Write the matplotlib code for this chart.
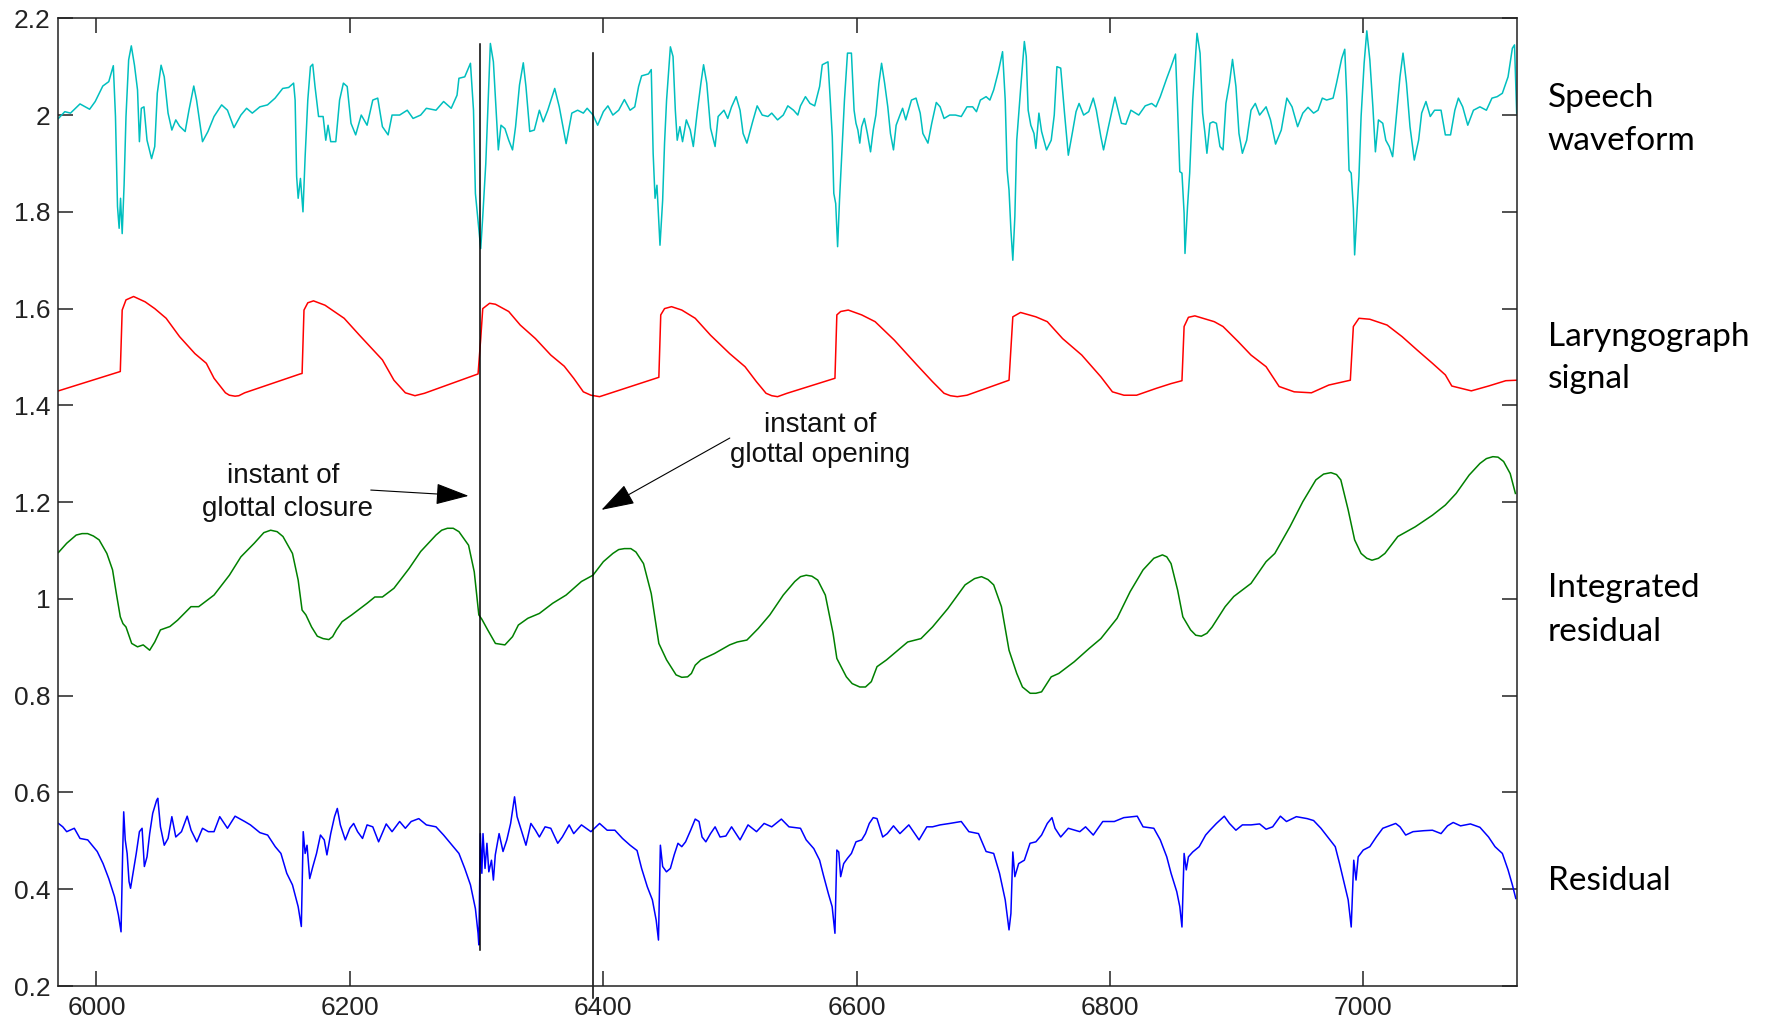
import matplotlib
matplotlib.use('Agg')
import matplotlib.pyplot as plt
import numpy as np
from matplotlib.ticker import FuncFormatter

# (sample, value) pairs
speech = [
    (5970, 1.993), (5975, 2.007), (5979.5, 2.004), (5987, 2.023), (5994.6, 2.012), (5999, 2.028),
    (6005, 2.060), (6009.7, 2.069), (6013.3, 2.102), (6015, 1.997), (6016.6, 1.811), (6017.9, 1.766),
    (6019, 1.828), (6020.3, 1.755), (6021.8, 1.855), (6023.3, 1.997), (6025.4, 2.114), (6027.5, 2.143),
    (6030, 2.103), (6032.4, 2.052), (6033.9, 1.945), (6035.4, 2.014), (6037.5, 2.017), (6039.9, 1.948),
    (6043.5, 1.910), (6046, 1.935), (6048, 2.045), (6051, 2.103), (6053.5, 2.079), (6056.5, 2.004),
    (6059.5, 1.969), (6062.6, 1.990), (6065.6, 1.977), (6070, 1.966), (6073, 2.010), (6076.8, 2.060),
    (6079, 2.031), (6083.7, 1.945), (6088, 1.966), (6092.8, 1.997), (6098.8, 2.021), (6103.4, 2.010),
    (6108.5, 1.974), (6114, 2.000), (6118.5, 2.014), (6123, 2.004), (6129, 2.017), (6135, 2.021),
    (6141, 2.035), (6147, 2.055), (6151.7, 2.057), (6155.6, 2.066), (6156.8, 2.031), (6158, 1.873),
    (6159.2, 1.828), (6161, 1.869), (6163, 1.800), (6164.7, 1.914), (6166.8, 2.031), (6168.9, 2.100),
    (6170.7, 2.105), (6172.5, 2.059), (6175.3, 1.997), (6178.9, 1.997), (6181, 1.948), (6182.8, 1.979),
    (6184.9, 1.945), (6188.9, 1.945), (6191.9, 2.031), (6194.9, 2.066), (6197.9, 2.059), (6200.9, 1.983),
    (6204.6, 1.959), (6209, 2.000), (6213.6, 1.979), (6218.1, 2.031), (6222, 2.035), (6225.7, 1.976),
    (6230.2, 1.959), (6233.3, 2.000), (6239.3, 2.000), (6245.3, 2.010), (6249.9, 1.993), (6255.9, 2.000),
    (6260.4, 2.014), (6268, 2.010), (6274, 2.028), (6280, 2.014), (6284.6, 2.041), (6286.1, 2.076),
    (6290.7, 2.079), (6295.2, 2.107), (6297.6, 2.010), (6299.1, 1.838), (6301.2, 1.780), (6303.3, 1.724),
    (6304.9, 1.790), (6307.3, 1.900), (6309.4, 2.045), (6310.9, 2.148), (6313.3, 2.110), (6315.4, 2.010),
    (6317.2, 1.928), (6319.3, 1.979), (6322.4, 1.972), (6325.4, 1.948), (6328.4, 1.928), (6330.8, 1.976),
    (6333.9, 2.062), (6336.9, 2.108), (6339, 2.059), (6342, 1.966), (6345.6, 1.969), (6349.6, 2.010),
    (6352.6, 1.986), (6356.2, 2.010), (6361.7, 2.055), (6365.3, 2.017), (6370.7, 1.941), (6375.2, 2.004),
    (6379.8, 2.010), (6384.3, 2.004), (6387.3, 2.014), (6392, 2.000), (6395.6, 1.979), (6400.1, 2.007),
    (6403.7, 2.019), (6407.6, 2.000), (6412.2, 2.010), (6416.7, 2.032), (6421.2, 2.010), (6424.9, 2.017),
    (6427.9, 2.059), (6430.3, 2.081), (6435.7, 2.085), (6437.9, 2.094), (6439.4, 1.921), (6440.9, 1.828),
    (6442.4, 1.855), (6444.8, 1.731), (6446.9, 1.824), (6448.4, 1.942), (6450, 2.031), (6453, 2.141),
    (6455.1, 2.121), (6456.9, 2.010), (6458.4, 1.948), (6460.5, 1.976), (6462.6, 1.945), (6465.6, 1.990),
    (6468.7, 1.969), (6471.1, 1.935), (6474.1, 2.004), (6477.1, 2.066), (6479.2, 2.104), (6481.7, 2.066),
    (6484.7, 1.973), (6488.3, 1.935), (6490.7, 1.997), (6495.3, 2.010), (6498.3, 1.993), (6501.3, 2.017),
    (6504.9, 2.038), (6508, 2.010), (6510.4, 1.962), (6513.4, 1.942), (6517.9, 1.986), (6521.5, 2.019),
    (6525.5, 2.000), (6530, 1.997), (6533, 2.004), (6537.6, 1.990), (6542.1, 2.000), (6545.7, 2.019),
    (6550.2, 2.010), (6553.6, 2.000), (6555.7, 2.019), (6559.6, 2.038), (6563.2, 2.024), (6566.9, 2.019),
    (6570.8, 2.059), (6572.9, 2.104), (6577.4, 2.110), (6579.2, 2.031), (6580.8, 1.955), (6582, 1.838),
    (6583.5, 1.817), (6585, 1.728), (6586.5, 1.824), (6588.3, 1.921), (6590.4, 2.031), (6592.8, 2.128),
    (6595.9, 2.128), (6598, 2.010), (6599.5, 1.983), (6601, 1.969), (6602.5, 1.942), (6604, 1.976),
    (6606.1, 1.993), (6608.5, 1.962), (6611, 1.924), (6613.1, 1.969), (6615.2, 2.000), (6617.6, 2.066),
    (6619.7, 2.107), (6622.1, 2.066), (6624.6, 2.017), (6626.7, 1.962), (6629.1, 1.928), (6631.2, 1.979),
    (6634.2, 2.000), (6636.3, 2.014), (6638.8, 1.990), (6643.3, 2.031), (6646.9, 2.035), (6650.2, 2.004),
    (6652.3, 1.962), (6656.3, 1.942), (6659.3, 1.983), (6662.9, 2.026), (6665.9, 2.017), (6669, 1.993),
    (6673.5, 2.000), (6678, 2.000), (6682.6, 1.997), (6687.1, 2.017), (6691.6, 2.017), (6694.6, 2.007),
    (6697.7, 2.031), (6702.2, 2.038), (6705.2, 2.031), (6708.2, 2.052), (6711.9, 2.090), (6715.2, 2.131),
    (6717.3, 2.031), (6718.8, 1.886), (6720.3, 1.845), (6721.8, 1.762), (6723.3, 1.700), (6724.9, 1.790),
    (6726.4, 1.948), (6729.4, 2.052), (6732.4, 2.152), (6733.9, 2.121), (6735.4, 2.010), (6737.5, 1.979),
    (6740, 1.962), (6741.5, 1.931), (6743.9, 2.004), (6746, 1.966), (6749.9, 1.928), (6753.6, 1.948),
    (6756, 2.000), (6758.1, 2.100), (6761.1, 2.097), (6764.1, 2.004), (6767.1, 1.917), (6770.2, 1.962),
    (6773.2, 2.007), (6775.6, 2.024), (6779.2, 2.000), (6783.2, 2.007), (6786.8, 2.035), (6789.2, 2.010),
    (6792.8, 1.955), (6794.9, 1.928), (6798.8, 1.976), (6803.9, 2.037), (6809, 1.983), (6812.5, 1.981),
    (6816.5, 2.010), (6822.7, 2.000), (6827.8, 2.019), (6832.9, 2.024), (6836.3, 2.017), (6839.7, 2.038),
    (6844.8, 2.076), (6848.2, 2.100), (6851.7, 2.126), (6853.4, 2.010), (6855.1, 1.883), (6856.8, 1.880),
    (6858.5, 1.797), (6859.2, 1.714), (6861.2, 1.811), (6862.9, 1.880), (6865.3, 2.031), (6868.7, 2.169),
    (6871.1, 2.128), (6873.1, 2.004), (6874.8, 1.966), (6876.5, 1.921), (6878.9, 1.983), (6881.3, 1.986),
    (6884, 1.983), (6886.8, 1.935), (6889.2, 1.928), (6891.5, 2.024), (6894.3, 2.066), (6896.7, 2.115),
    (6899.4, 2.059), (6901.8, 1.962), (6904.5, 1.921), (6907.9, 1.948), (6911.3, 2.010), (6914.7, 2.024),
    (6918.1, 2.000), (6923.2, 2.017), (6926.7, 1.990), (6930.7, 1.940), (6935.2, 1.969), (6939.6, 2.035),
    (6943.7, 2.017), (6948.1, 1.976), (6952.2, 2.004), (6956.3, 2.016), (6960.7, 2.004), (6964.2, 2.010),
    (6967.6, 2.035), (6971, 2.031), (6976.1, 2.035), (6978.8, 2.066), (6982.9, 2.117), (6985.3, 2.136),
    (6987, 2.031), (6988.7, 1.886), (6990.4, 1.880), (6992.1, 1.807), (6993.1, 1.711), (6994.8, 1.790),
    (6996.5, 1.873), (6998.2, 1.997), (7000.6, 2.107), (7002.7, 2.174), (7005.1, 2.114), (7007.5, 2.017),
    (7009.5, 1.924), (7011.9, 1.990), (7015.3, 1.983), (7017.7, 1.948), (7020.4, 1.935), (7023.1, 1.914),
    (7026.5, 2.010), (7028.9, 2.079), (7031.3, 2.128), (7034, 2.066), (7036.8, 1.976), (7040.2, 1.907),
    (7043.6, 1.948), (7046, 2.004), (7049.4, 2.028), (7052.8, 1.997), (7056.2, 2.010), (7061.3, 2.010),
    (7064.7, 1.959), (7068.8, 1.959), (7072.2, 2.010), (7075, 2.035), (7078.4, 2.017), (7082.4, 1.979),
    (7086.9, 2.010), (7092, 2.017), (7097.1, 2.010), (7101.5, 2.035), (7105.6, 2.038), (7109.7, 2.045),
    (7114.2, 2.079), (7117.6, 2.138), (7119.3, 2.145), (7121, 2.004),
]

laryngograph = [
    (5970, 1.430), (6018.8, 1.470), (6020.3, 1.597), (6023.3, 1.618), (6029.3, 1.625), (6038.4, 1.614),
    (6046, 1.600), (6055, 1.580), (6065.6, 1.542), (6077.7, 1.507), (6086.7, 1.487), (6092.8, 1.456),
    (6101.8, 1.426), (6104.9, 1.421), (6109.4, 1.419), (6112.4, 1.420), (6117, 1.426), (6160.8, 1.465),
    (6162.3, 1.466), (6163.8, 1.597), (6166.8, 1.612), (6171.3, 1.616), (6180.4, 1.607), (6195.5, 1.580),
    (6207.6, 1.545), (6225.7, 1.494), (6234.8, 1.452), (6243.8, 1.426), (6251.4, 1.420), (6258.9, 1.425),
    (6301.2, 1.465), (6303.3, 1.538), (6304.9, 1.600), (6310.3, 1.611), (6314.9, 1.609), (6325.4, 1.594),
    (6334.5, 1.566), (6346.5, 1.538), (6358.6, 1.504), (6369.2, 1.481), (6376.7, 1.456), (6384.3, 1.428),
    (6390.3, 1.421), (6397.1, 1.418), (6443.9, 1.458), (6445.4, 1.587), (6448.4, 1.600), (6453.9, 1.604),
    (6462, 1.597), (6472.6, 1.580), (6484.7, 1.545), (6499.8, 1.507), (6511.9, 1.480), (6520.9, 1.449),
    (6528.5, 1.425), (6533, 1.420), (6537.6, 1.418), (6545.1, 1.425), (6582.9, 1.456), (6584.4, 1.587),
    (6587.4, 1.594), (6593.4, 1.597), (6604, 1.587), (6614.6, 1.573), (6629.7, 1.535), (6647.8, 1.483),
    (6659.9, 1.449), (6669, 1.425), (6674, 1.420), (6679.5, 1.418), (6687.1, 1.421), (6720.3, 1.452),
    (6723.3, 1.583), (6729.4, 1.592), (6741.5, 1.583), (6750.5, 1.573), (6762.6, 1.538), (6777.7, 1.504),
    (6792.8, 1.459), (6801.9, 1.428), (6811, 1.421), (6821, 1.421), (6836.3, 1.435), (6848.2, 1.445),
    (6856.8, 1.451), (6858.5, 1.563), (6861.9, 1.582), (6867, 1.585), (6882.3, 1.573), (6889.2, 1.563),
    (6901.1, 1.532), (6911.3, 1.504), (6923.2, 1.480), (6933.5, 1.439), (6945.4, 1.428), (6959, 1.426),
    (6972.7, 1.442), (6989.7, 1.452), (6992.1, 1.563), (6996.5, 1.580), (7005.1, 1.578), (7018.7, 1.566),
    (7030.6, 1.542), (7042.6, 1.514), (7054.5, 1.487), (7064.7, 1.463), (7069.8, 1.440), (7085.2, 1.430),
    (7098.8, 1.440), (7112.4, 1.451), (7121, 1.452),
]

integrated = [
    (5970, 1.096), (5976.5, 1.115), (5984, 1.132), (5988.6, 1.135), (5993, 1.135), (5997.6, 1.130),
    (6002.1, 1.122), (6008.2, 1.094), (6012.7, 1.060), (6015.7, 1.011), (6018.8, 0.963), (6020.9, 0.949),
    (6023.3, 0.942), (6027.8, 0.908), (6032.4, 0.901), (6036.9, 0.905), (6042, 0.894), (6046, 0.911),
    (6050.5, 0.936), (6058, 0.943), (6064, 0.956), (6074.6, 0.984), (6080.7, 0.984), (6092.8, 1.008),
    (6104.9, 1.049), (6114, 1.087), (6124.5, 1.115), (6132.1, 1.137), (6137.5, 1.142), (6142.6, 1.139),
    (6147.2, 1.129), (6154.7, 1.094), (6159.2, 1.039), (6162.3, 0.977), (6165.3, 0.967), (6169.8, 0.942),
    (6174.3, 0.923), (6178.9, 0.918), (6183.4, 0.916), (6186.4, 0.922), (6189.4, 0.936), (6193.9, 0.953),
    (6201.5, 0.967), (6213.6, 0.991), (6219.7, 1.004), (6225.7, 1.004), (6234.8, 1.022), (6246.8, 1.063),
    (6255.9, 1.098), (6268, 1.132), (6272.5, 1.142), (6277, 1.146), (6281.6, 1.146), (6286.1, 1.139),
    (6293.7, 1.111), (6298.2, 1.056), (6301.8, 0.967), (6304.2, 0.958), (6308.8, 0.936), (6314.9, 0.908),
    (6322.4, 0.905), (6328.4, 0.922), (6333, 0.946), (6340.5, 0.960), (6349.6, 0.970), (6360.1, 0.991),
    (6370.7, 1.008), (6382.8, 1.036), (6391.9, 1.049), (6400.1, 1.077), (6407.6, 1.094), (6412.2, 1.102),
    (6416.7, 1.104), (6421.8, 1.104), (6425.8, 1.097), (6431.8, 1.073), (6437.9, 1.011), (6443.9, 0.908),
    (6450, 0.874), (6457.5, 0.843), (6462, 0.838), (6466.6, 0.839), (6469.6, 0.846), (6472.6, 0.863),
    (6477.1, 0.874), (6487.7, 0.887), (6499.8, 0.905), (6505.8, 0.911), (6513.4, 0.915), (6522.4, 0.939),
    (6531.5, 0.967), (6542.1, 1.008), (6551.2, 1.036), (6555.7, 1.046), (6560.2, 1.049), (6564.7, 1.047),
    (6569.3, 1.039), (6575.3, 1.008), (6581.4, 0.929), (6584.4, 0.877), (6591.9, 0.839), (6596.5, 0.825),
    (6602.5, 0.818), (6607, 0.818), (6611.6, 0.829), (6616.1, 0.860), (6623.6, 0.874), (6632.7, 0.894),
    (6640.3, 0.911), (6650.8, 0.918), (6659.9, 0.942), (6672, 0.980), (6685.6, 1.029), (6693.1, 1.042),
    (6698.6, 1.046), (6703.7, 1.040), (6708.2, 1.029), (6714.3, 0.984), (6720.3, 0.894), (6726.4, 0.846),
    (6730.9, 0.818), (6737, 0.805), (6741.5, 0.805), (6746, 0.808), (6753.6, 0.839), (6759.6, 0.846),
    (6771.7, 0.870), (6783.7, 0.898), (6792.8, 0.918), (6805.6, 0.960), (6815.9, 1.015), (6826.1, 1.060),
    (6834.6, 1.084), (6841.4, 1.091), (6844.8, 1.087), (6848.2, 1.073), (6853.4, 1.018), (6857.5, 0.963),
    (6863.6, 0.936), (6867.7, 0.925), (6872.1, 0.923), (6876.5, 0.929), (6880.6, 0.942), (6890.9, 0.984),
    (6897.7, 1.005), (6911.3, 1.032), (6923.2, 1.077), (6930.1, 1.094), (6942, 1.149), (6952.2, 1.201),
    (6962.5, 1.246), (6968.6, 1.258), (6974.4, 1.261), (6978.8, 1.257), (6982.2, 1.246), (6988, 1.184),
    (6993.1, 1.122), (6998.2, 1.094), (7002.7, 1.084), (7006.8, 1.080), (7011.9, 1.084), (7017, 1.094),
    (7027.2, 1.129), (7040.9, 1.149), (7054.5, 1.173), (7064.7, 1.194), (7073.2, 1.218), (7083.5, 1.256),
    (7092, 1.280), (7097.1, 1.290), (7102.2, 1.294), (7106.3, 1.293), (7110.7, 1.284), (7115.9, 1.259),
    (7120, 1.218),
]

residual = [
    (5970, 0.536), (5973.4, 0.529), (5976.5, 0.519), (5982.5, 0.526), (5987, 0.505), (5993.1, 0.502),
    (6000.6, 0.478), (6005.2, 0.453), (6009.7, 0.422), (6014.2, 0.385), (6017.3, 0.347), (6019.4, 0.312),
    (6020.6, 0.467), (6021.5, 0.560), (6022.7, 0.502), (6024.2, 0.474), (6025.7, 0.416), (6026.9, 0.402),
    (6029.3, 0.440), (6031.4, 0.474), (6033.9, 0.519), (6036, 0.526), (6037.8, 0.447), (6039.9, 0.467),
    (6042, 0.515), (6044.4, 0.557), (6047.5, 0.584), (6048.4, 0.588), (6050.5, 0.529), (6053.5, 0.491),
    (6056.5, 0.505), (6059.5, 0.550), (6062.6, 0.508), (6067.1, 0.519), (6071.6, 0.551), (6074.7, 0.522),
    (6079.2, 0.498), (6083.7, 0.526), (6088.3, 0.519), (6092.8, 0.519), (6097.3, 0.550), (6103.4, 0.526),
    (6109.4, 0.551), (6117, 0.540), (6121.5, 0.533), (6129, 0.517), (6135.1, 0.512), (6141.1, 0.488),
    (6145.6, 0.474), (6150.2, 0.433), (6154.7, 0.409), (6159.2, 0.364), (6161.7, 0.323), (6163.2, 0.519),
    (6164.7, 0.474), (6166.2, 0.491), (6168.3, 0.422), (6170.7, 0.446), (6173.7, 0.474), (6176.8, 0.512),
    (6179.8, 0.502), (6181.9, 0.471), (6184.9, 0.515), (6187.9, 0.550), (6190.1, 0.567), (6192.5, 0.533),
    (6196.4, 0.502), (6200, 0.526), (6203, 0.536), (6206.1, 0.519), (6210, 0.505), (6213.6, 0.533),
    (6218.1, 0.529), (6222.7, 0.498), (6228.7, 0.535), (6233.3, 0.519), (6239.3, 0.540), (6243.8, 0.526),
    (6248.4, 0.540), (6254.4, 0.546), (6260.4, 0.533), (6268, 0.529), (6274, 0.512), (6281.6, 0.488),
    (6286.1, 0.474), (6290.7, 0.443), (6295.2, 0.409), (6299.1, 0.360), (6301.2, 0.309), (6301.8, 0.285),
    (6303, 0.515), (6304.2, 0.433), (6305.1, 0.515), (6306.7, 0.443), (6308.2, 0.495), (6309.7, 0.436),
    (6311.8, 0.460), (6313.3, 0.419), (6314.8, 0.471), (6317.8, 0.515), (6320.9, 0.478), (6323.9, 0.502),
    (6326.9, 0.536), (6330, 0.591), (6332, 0.550), (6334.5, 0.529), (6339, 0.491), (6342.9, 0.536),
    (6346.5, 0.522), (6349.6, 0.508), (6354.1, 0.529), (6358.6, 0.526), (6364.1, 0.495), (6367.7, 0.508),
    (6373.1, 0.533), (6376.7, 0.515), (6382.8, 0.533), (6390.3, 0.519), (6397.1, 0.536), (6403.1, 0.522),
    (6409.2, 0.522), (6415.2, 0.505), (6421.2, 0.491), (6426.7, 0.480), (6430.3, 0.443), (6434.8, 0.405),
    (6438.8, 0.378), (6441.8, 0.336), (6443.6, 0.295), (6445.1, 0.491), (6446.9, 0.447), (6449.9, 0.436),
    (6453, 0.443), (6456, 0.471), (6459, 0.495), (6462, 0.488), (6465, 0.498), (6469, 0.522),
    (6472.6, 0.545), (6475.6, 0.540), (6478, 0.508), (6481, 0.498), (6484.7, 0.515), (6488.3, 0.529),
    (6492.2, 0.508), (6496.8, 0.510), (6501.3, 0.529), (6508, 0.502), (6514.3, 0.533), (6521, 0.519),
    (6527, 0.536), (6533, 0.529), (6540.6, 0.545), (6546.6, 0.529), (6555.7, 0.526), (6560.2, 0.502),
    (6566.2, 0.484), (6570.8, 0.460), (6573.8, 0.429), (6577.7, 0.391), (6580.7, 0.364), (6582.9, 0.309),
    (6584.4, 0.481), (6585.9, 0.477), (6587.4, 0.426), (6589.8, 0.453), (6592.8, 0.464), (6595.9, 0.474),
    (6599.5, 0.498), (6604, 0.502), (6607, 0.515), (6610, 0.536), (6613.1, 0.548), (6616.1, 0.546),
    (6620.6, 0.508), (6624.2, 0.515), (6629.1, 0.531), (6634.2, 0.515), (6641.2, 0.533), (6649.3, 0.502),
    (6655.4, 0.529), (6659.9, 0.529), (6665.9, 0.533), (6673.5, 0.536), (6682.6, 0.540), (6688.6, 0.519),
    (6696.2, 0.515), (6702.2, 0.478), (6708.2, 0.474), (6712.8, 0.433), (6717.3, 0.378), (6720.3, 0.316),
    (6721.8, 0.350), (6723.3, 0.477), (6724.9, 0.426), (6727.9, 0.453), (6732.4, 0.460), (6736.9, 0.495),
    (6741.5, 0.498), (6746, 0.512), (6750.5, 0.536), (6754.2, 0.548), (6756.6, 0.526), (6761.1, 0.508),
    (6767.1, 0.526), (6776.2, 0.519), (6780.7, 0.529), (6786.8, 0.512), (6794.3, 0.540), (6803.4, 0.540),
    (6810.9, 0.548), (6821.5, 0.551), (6826.1, 0.529), (6834.6, 0.526), (6839.7, 0.502), (6844.8, 0.467),
    (6848.2, 0.433), (6852.7, 0.395), (6855.1, 0.364), (6856.8, 0.322), (6858.5, 0.474), (6860.2, 0.440),
    (6861.9, 0.467), (6865.3, 0.477), (6870.4, 0.488), (6875.5, 0.512), (6878.9, 0.522), (6884, 0.536),
    (6890.2, 0.551), (6894.3, 0.536), (6899.4, 0.522), (6904.5, 0.533), (6911.3, 0.533), (6918.1, 0.535),
    (6923.2, 0.524), (6928.4, 0.529), (6934.5, 0.551), (6939.3, 0.540), (6947.1, 0.550), (6955.6, 0.546),
    (6960.7, 0.542), (6966.5, 0.526), (6972.7, 0.505), (6977.8, 0.488), (6981.2, 0.453), (6984.6, 0.415),
    (6988, 0.378), (6990.4, 0.322), (6992.4, 0.460), (6994.2, 0.419), (6995.9, 0.467), (6999.9, 0.481),
    (7005.1, 0.488), (7010.2, 0.508), (7015.3, 0.526), (7020.4, 0.531), (7025.5, 0.536), (7028.9, 0.529),
    (7033.4, 0.512), (7039.2, 0.519), (7047.7, 0.521), (7054.5, 0.522), (7061.3, 0.515), (7066.4, 0.531),
    (7070.9, 0.538), (7076.7, 0.531), (7084.5, 0.535), (7092, 0.528), (7098.8, 0.508), (7103.9, 0.488),
    (7109.7, 0.474), (7114.2, 0.440), (7117.6, 0.409), (7120.3, 0.381),
]

closure_x = 6303
opening_x = 6392

plt.rcParams['font.family'] = ['Liberation Sans', 'DejaVu Sans']

fig = plt.figure(figsize=(17.77, 10.27), dpi=100)
ax = fig.add_axes([0.0329, 0.0399, 0.8206, 0.9423])

series = [(speech, '#00BFBF'), (laryngograph, '#FF0000'),
          (integrated, '#008000'), (residual, '#0000FF')]
for data, col in series:
    arr = np.array(data)
    ax.plot(arr[:, 0], arr[:, 1], color=col, lw=1.1)

# marker lines for glottal closure / opening
ax.plot([closure_x, closure_x], [0.275, 2.146], color='k', lw=1.1)
ax.plot([opening_x, opening_x], [0.175, 2.129], color='k', lw=1.1, clip_on=False)

ax.set_xlim(5970, 7121)
ax.set_ylim(0.2, 2.2)
ax.set_xticks([6000, 6200, 6400, 6600, 6800, 7000])
ax.set_yticks(np.arange(0.2, 2.21, 0.2))
ax.yaxis.set_major_formatter(FuncFormatter(lambda v, p: '%g' % round(v, 1)))
ax.tick_params(direction='in', length=11, width=1.1, top=True, right=True,
               labelsize=19, colors='#222222')
ax.tick_params(axis='x', pad=7.5)
ax.tick_params(axis='y', pad=6)
for s in ax.spines.values():
    s.set_linewidth(1.1)
    s.set_color('#222222')

arrow_style = dict(arrowstyle='-|>,head_length=1.4,head_width=0.45', color='k',
                   lw=0.8, mutation_scale=15, shrinkA=0, shrinkB=0)
ax.annotate('', xy=(6293.7, 1.213), xytext=(6216.5, 1.225), arrowprops=arrow_style)
ax.annotate('', xy=(6398.6, 1.184), xytext=(6499.9, 1.3325), arrowprops=arrow_style)

ax.text(6147.5, 1.239, 'instant of', fontsize=20, ha='center', va='baseline', color='#111111')
ax.text(6150.8, 1.172, 'glottal closure', fontsize=20, ha='center', va='baseline', color='#111111')
ax.text(6571.3, 1.3455, 'instant of', fontsize=20, ha='center', va='baseline', color='#111111')
ax.text(6571, 1.2835, 'glottal opening', fontsize=20, ha='center', va='baseline', color='#111111')

# signal names on the right
names = [('Speech', 0.8961), ('waveform', 0.8539), ('Laryngograph', 0.6631), ('signal', 0.6219),
         ('Integrated', 0.4190), ('residual', 0.3761), ('Residual', 0.1334)]
for txt, yy in names:
    fig.text(0.8711, yy, txt, fontsize=24, family=['Lato', 'DejaVu Sans'],
             ha='left', va='baseline', color='black')

fig.savefig('out.png', dpi=100)
